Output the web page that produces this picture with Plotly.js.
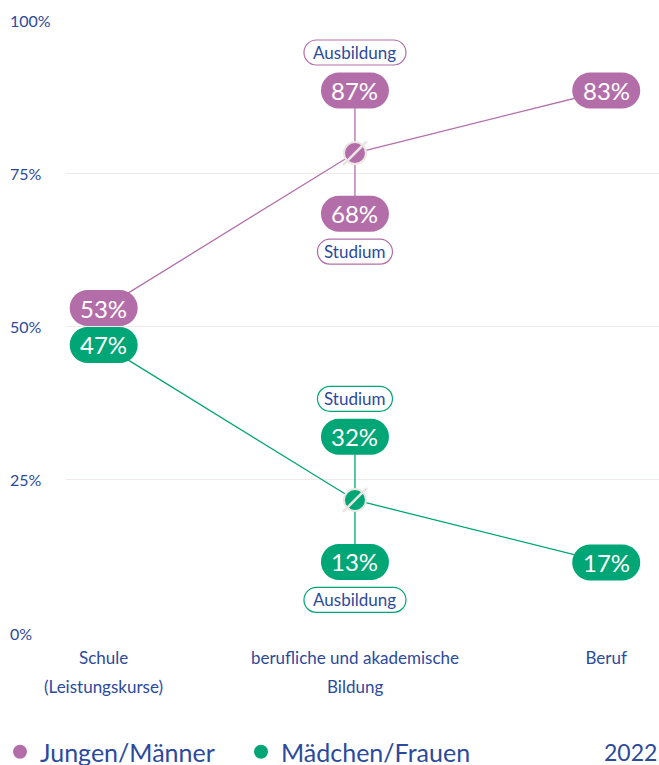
<!DOCTYPE html>
<html><head><meta charset="utf-8">
<script src="https://cdn.plot.ly/plotly-3.0.1.min.js"></script>
<style>body{margin:0;background:#fff}#chart{width:659px;height:765px}</style>
</head><body><div id="chart"></div>
<script>
// ---- data ----
const categories = ['Schule', 'berufliche und akademische Bildung', 'Beruf'];
const tickLine1 = ['Schule', 'berufliche und akademische', 'Beruf'];
const tickLine2 = ['(Leistungskurse)', 'Bildung', ''];
const menName = 'Jungen/Männer';
const womenName = 'Mädchen/Frauen';
const menLevels = [53, 78.3, 88.5];      // plotted level of each point
const womenLevels = [47, 21.7, 11.5];
const menEndLabels = ['53%', '83%'];     // labels at Schule and Beruf
const womenEndLabels = ['47%', '17%'];
const menSplitNames = ['Ausbildung', 'Studium'];
const menSplitValues = [88.5, 68.4];
const menSplitLabels = ['87%', '68%'];
const womenSplitNames = ['Studium', 'Ausbildung'];
const womenSplitValues = [32, 11.6];
const womenSplitLabels = ['32%', '13%'];
const yTicks = [0, 25, 50, 75, 100];
const yTickText = ['0%', '25%', '50%', '75%', '100%'];
const yearLabel = '2022';

// ---- style ----
const PURPLE = '#b36eaa';
const GREEN = '#00a676';
const BLUE = '#2c4a9c';
const FONT = 'Lato, "Open Sans", sans-serif';
const L = 66, W = 659, H = 765, T = 20, B = 132;
const plotW = W - L, plotH = H - T - B;
const px2paperX = p => (p - L) / plotW;
const px2paperY = p => (H - B - p) / plotH;

function pillPath(w, h, dy) {
  const r = h / 2, a = w / 2 - r, k = 0.5523 * r;
  const y = v => (v + dy).toFixed(2);
  return `M ${-a},${y(-r)} L ${a},${y(-r)} C ${a + k},${y(-r)} ${a + r},${y(-k)} ${a + r},${y(0)} ` +
    `C ${a + r},${y(k)} ${a + k},${y(r)} ${a},${y(r)} L ${-a},${y(r)} ` +
    `C ${-a - k},${y(r)} ${-a - r},${y(k)} ${-a - r},${y(0)} C ${-a - r},${y(-k)} ${-a - k},${y(-r)} ${-a},${y(-r)} Z`;
}
const shapes = [];
const annotations = [];
function valuePill(xc, yv, text, color) {
  shapes.push({type: 'path', xref: 'x', yref: 'y', xsizemode: 'pixel', ysizemode: 'pixel',
    xanchor: xc, yanchor: yv, path: pillPath(68, 36, 0), fillcolor: color,
    line: {width: 0}, layer: 'above'});
  annotations.push({x: xc, y: yv, xref: 'x', yref: 'y', text: text, showarrow: false,
    font: {family: FONT, size: 24, color: '#ffffff'}, yshift: 0});
}
function namePill(xc, yv, dy, text, color, w) {
  shapes.push({type: 'path', xref: 'x', yref: 'y', xsizemode: 'pixel', ysizemode: 'pixel',
    xanchor: xc, yanchor: yv, path: pillPath(w, 25, dy), fillcolor: '#ffffff',
    line: {width: 1.2, color: color}, layer: 'above'});
  annotations.push({x: xc, y: yv, xref: 'x', yref: 'y', text: text, showarrow: false,
    font: {family: FONT, size: 17, color: BLUE}, yshift: dy});
}
const c0 = categories[0], c1 = categories[1], c2 = categories[2];
valuePill(c0, menLevels[0], menEndLabels[0], PURPLE);
valuePill(c2, menLevels[2], menEndLabels[1], PURPLE);
valuePill(c0, womenLevels[0], womenEndLabels[0], GREEN);
valuePill(c2, womenLevels[2], womenEndLabels[1], GREEN);
menSplitValues.forEach((v, i) => valuePill(c1, v, menSplitLabels[i], PURPLE));
womenSplitValues.forEach((v, i) => valuePill(c1, v, womenSplitLabels[i], GREEN));
namePill(c1, menSplitValues[0], 38, menSplitNames[0], PURPLE, 102);
namePill(c1, menSplitValues[1], -38, menSplitNames[1], PURPLE, 75);
namePill(c1, womenSplitValues[0], 38, womenSplitNames[0], GREEN, 75);
namePill(c1, womenSplitValues[1], -38, womenSplitNames[1], GREEN, 102);

// y tick labels (left aligned)
yTicks.forEach((v, i) => annotations.push({xref: 'paper', yref: 'y', x: px2paperX(8), y: v,
  xanchor: 'left', yanchor: 'middle', text: yTickText[i], showarrow: false,
  font: {family: FONT, size: 16, color: BLUE}}));
// second line of category labels
categories.forEach((c, i) => { if (tickLine2[i]) annotations.push({xref: 'x', yref: 'paper', x: c,
  y: px2paperY(686), yanchor: 'middle', text: tickLine2[i], showarrow: false,
  font: {family: FONT, size: 17, color: BLUE}}); });
annotations.push({xref: 'paper', yref: 'paper', x: 1, y: px2paperY(752), xanchor: 'right',
  yanchor: 'middle', text: yearLabel, showarrow: false, font: {family: FONT, size: 23, color: BLUE}});

const traces = [
  {x: [c1, c1], y: menSplitValues, mode: 'lines', line: {color: PURPLE, width: 1.3}, showlegend: false, hoverinfo: 'skip'},
  {x: [c1, c1], y: womenSplitValues, mode: 'lines', line: {color: GREEN, width: 1.3}, showlegend: false, hoverinfo: 'skip'},
  {x: categories, y: menLevels, mode: 'lines', line: {color: PURPLE, width: 1.3}, showlegend: false, name: menName},
  {x: categories, y: womenLevels, mode: 'lines', line: {color: GREEN, width: 1.3}, showlegend: false, name: womenName},
  {x: [c1], y: [menLevels[1]], mode: 'markers', marker: {symbol: 'circle', size: 22, color: PURPLE, line: {color: '#ebe6e4', width: 2}}, showlegend: false},
  {x: [c1], y: [womenLevels[1]], mode: 'markers', marker: {symbol: 'circle', size: 22, color: GREEN, line: {color: '#ebe6e4', width: 2}}, showlegend: false},
  {x: [c1, c1], y: [menLevels[1], womenLevels[1]], mode: 'markers', marker: {symbol: 'line-ne', size: 24, line: {color: '#ebe6e4', width: 2.5}}, showlegend: false},
  {x: [null], y: [null], mode: 'markers', name: menName, marker: {size: 14, color: PURPLE}},
  {x: [null], y: [null], mode: 'markers', name: womenName, marker: {size: 14, color: GREEN}}
];

const layout = {
  width: W, height: H,
  margin: {l: L, r: 0, t: T, b: B, autoexpand: false},
  paper_bgcolor: '#ffffff', plot_bgcolor: '#ffffff',
  font: {family: FONT, color: BLUE},
  xaxis: {type: 'category', categoryorder: 'array', categoryarray: categories,
    range: [-0.15, 2.21], tickvals: categories, ticktext: tickLine1,
    showgrid: false, zeroline: false, showline: false, ticks: '', automargin: false,
    tickfont: {family: FONT, size: 17, color: BLUE}, ticklabelstandoff: 13, fixedrange: true},
  yaxis: {range: [0, 100], tickvals: yTicks, showticklabels: false, showgrid: true, automargin: false,
    gridcolor: '#f1e9e9', gridwidth: 1, zeroline: false, showline: false, ticks: '', fixedrange: true},
  showlegend: true,
  legend: {orientation: 'h', xref: 'container', yref: 'container', x: -10 / W, xanchor: 'left',
    y: (H - 752) / H, yanchor: 'middle', entrywidth: 196, entrywidthmode: 'pixels',
    font: {family: FONT, size: 25, color: BLUE}, itemwidth: 30, bgcolor: 'rgba(0,0,0,0)'},
  shapes: shapes,
  annotations: annotations
};
Plotly.newPlot('chart', traces, layout, {displayModeBar: false, staticPlot: true});
</script></body></html>
